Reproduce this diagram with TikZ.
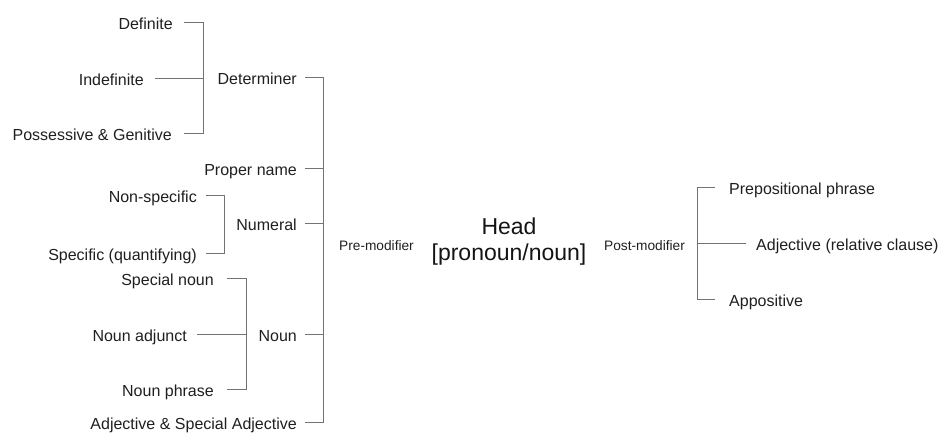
\documentclass[tikz,border=0pt]{standalone}
\usepackage{fontspec}
\setmainfont{Liberation Sans}
\begin{document}
\begin{tikzpicture}[x=1pt,y=-1pt,
  lbl/.style={inner sep=0pt,text height=15pt,text depth=0pt,font=\fontsize{16}{19}\selectfont,text=black!88},
  sml/.style={inner sep=0pt,font=\fontsize{13.7}{16}\selectfont,text=black!88},
  hd/.style={inner sep=0pt,align=center,font=\fontsize{23}{26}\selectfont,text=black!92},
  conn/.style={draw=black!55,line width=0.9pt}]
\useasboundingbox (0,0) rectangle (942,432);
% bracket bars
\coordinate (bdet) at (203,0);
\coordinate (bnum) at (224,0);
\coordinate (bnoun) at (246,0);
\coordinate (bpre) at (323,0);
\coordinate (bpost) at (697,0);
% determiner group
\node[lbl,anchor=east] (def) at (173,22) {Definite};
\node[lbl,anchor=east] (indef) at (144,78) {Indefinite};
\node[lbl,anchor=east] (poss) at (172,133) {Possessive \& Genitive};
\node[lbl,anchor=east] (det) at (297,77) {Determiner};
% others
\node[lbl,anchor=east] (prop) at (297,168) {Proper name};
\node[lbl,anchor=east] (nonspec) at (197,195) {Non-specific};
\node[lbl,anchor=east] (spec) at (197,253) {Specific (quantifying)};
\node[lbl,anchor=east] (num) at (297,223) {Numeral};
\node[lbl,anchor=east] (spn) at (214,278) {Special noun};
\node[lbl,anchor=east] (nadj) at (187,334) {Noun adjunct};
\node[lbl,anchor=east] (nphr) at (214,389) {Noun phrase};
\node[lbl,anchor=east] (noun) at (297,334) {Noun};
\node[lbl,anchor=east] (adj) at (297,422) {Adjective \& Special Adjective};
% centre
\node[sml,anchor=mid west] (pre) at (339,248) {Pre-modifier};
\node[hd] (head) at (509,242) {Head\\{[}pronoun/noun{]}};
\node[sml,anchor=mid west] (post) at (604,248) {Post-modifier};
% post-modifier group
\node[lbl,anchor=west] (prep) at (729,187) {Prepositional phrase};
\node[lbl,anchor=west] (rel) at (756,243) {Adjective (relative clause)};
\node[lbl,anchor=west] (appo) at (729,299) {Appositive};
% determiner bracket
\draw[conn] ([xshift=11]def.east) -- (def.east -| bdet) -- (poss.east -| bdet) -- ([xshift=12]poss.east);
\draw[conn] ([xshift=11]indef.east) -- (indef.east -| bdet);
% numeral bracket
\draw[conn] ([xshift=9]nonspec.east) -- (nonspec.east -| bnum) -- (spec.east -| bnum) -- ([xshift=9]spec.east);
% noun bracket
\draw[conn] ([xshift=13]spn.east) -- (spn.east -| bnoun) -- (nphr.east -| bnoun) -- ([xshift=13]nphr.east);
\draw[conn] ([xshift=10]nadj.east) -- (nadj.east -| bnoun);
% pre-modifier bracket
\draw[conn] ([xshift=8]det.east) -- (det.east -| bpre) -- (adj.east -| bpre) -- ([xshift=8]adj.east);
\draw[conn] ([xshift=8]prop.east) -- (prop.east -| bpre);
\draw[conn] ([xshift=8]num.east) -- (num.east -| bpre);
\draw[conn] ([xshift=8]noun.east) -- (noun.east -| bpre);
% post-modifier bracket
\draw[conn] ([xshift=-14]prep.west) -- (prep.west -| bpost) -- (appo.west -| bpost) -- ([xshift=-14]appo.west);
\draw[conn] ([xshift=-10]rel.west) -- (rel.west -| bpost);
\end{tikzpicture}
\end{document}
